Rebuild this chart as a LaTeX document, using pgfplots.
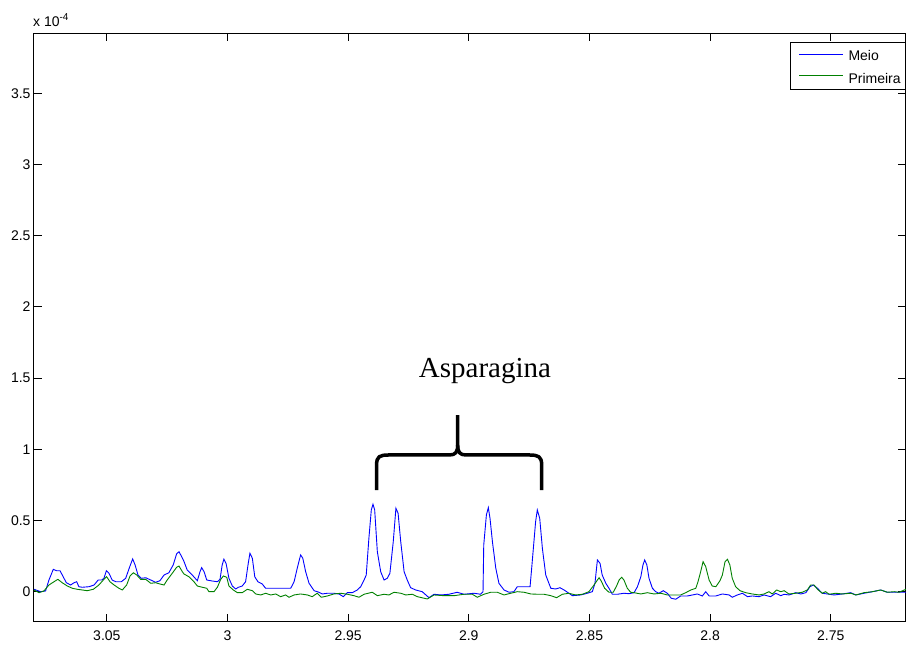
\documentclass[border=0pt]{standalone}
\usepackage{pgfplots}
\pgfplotsset{compat=1.18}
\usepackage{fontspec}
\setmainfont{Liberation Sans}
\newfontfamily\timesfont{Liberation Serif}
\definecolor{mblue}{RGB}{0,0,255}
\definecolor{mgreen}{RGB}{0,128,0}
\begin{document}
\fontsize{14}{16}\selectfont
\begin{tikzpicture}
\useasboundingbox (-34pt,-24.3pt) rectangle (872pt,621.7pt);
\begin{axis}[
  name=ax,
  at={(0pt,0pt)}, anchor=south west,
  scale only axis, width=872pt, height=588.4pt,
  x dir=reverse,
  xmin=2.7188, xmax=3.0802,
  ymin=-0.2107, ymax=3.921,
  xtick={2.75,2.8,2.85,2.9,2.95,3,3.05},
  xticklabels={2.75,2.8,2.85,2.9,2.95,3,3.05},
  ytick={0,0.5,1,1.5,2,2.5,3,3.5},
  yticklabels={0,0.5,1,1.5,2,2.5,3,3.5},
  /pgf/number format/assume math mode=true,
  tick align=inside,
  major tick length=8pt,
  tick style={black, line width=0.8pt},
  axis line style={black, line width=1pt},
  ticklabel style={font=\fontsize{14}{16}\selectfont},
  yticklabel style={xshift=1.4pt},
  xticklabel style={yshift=-4.5pt},
]
\addplot[mblue, line width=0.9pt] coordinates {
(3.0802,0.017) (3.0774,0) (3.0754,0.005) (3.0740,0.082) (3.0722,0.157) (3.0708,0.147)
(3.0694,0.147) (3.0681,0.105) (3.0668,0.063) (3.0650,0.047) (3.0636,0.063) (3.0625,0.070)
(3.0616,0.035) (3.0602,0.031) (3.0574,0.035) (3.0553,0.047) (3.0536,0.082) (3.0521,0.082)
(3.0512,0.094) (3.0502,0.147) (3.0491,0.129) (3.0478,0.082) (3.0463,0.070) (3.0440,0.070)
(3.0422,0.094) (3.0405,0.176) (3.0393,0.230) (3.0383,0.188) (3.0371,0.117) (3.0357,0.094)
(3.0339,0.098) (3.0318,0.082) (3.0298,0.066) (3.0280,0.077) (3.0263,0.117) (3.0243,0.133)
(3.0225,0.188) (3.0211,0.265) (3.0201,0.281) (3.0190,0.246) (3.0180,0.211) (3.0167,0.152)
(3.0146,0.117) (3.0125,0.077) (3.0114,0.140) (3.0107,0.169) (3.0097,0.140) (3.0086,0.082)
(3.0063,0.075) (3.0042,0.070) (3.0031,0.087) (3.0022,0.188) (3.0015,0.228) (3.0006,0.199)
(2.9994,0.094) (2.9980,0.040) (2.9966,0.019) (2.9955,0.031) (2.9939,0.040) (2.9925,0.070)
(2.9914,0.199) (2.9907,0.270) (2.9897,0.235) (2.9887,0.105) (2.9874,0.070) (2.9856,0.054)
(2.9842,0.024) (2.9738,0.024) (2.9724,0.070) (2.9711,0.164) (2.9697,0.258) (2.9688,0.235)
(2.9676,0.140) (2.9662,0.059) (2.9641,0.007) (2.9621,-0.004) (2.9607,-0.016) (2.9586,-0.011)
(2.9559,-0.011) (2.9538,-0.016) (2.9520,-0.035) (2.9503,-0.007) (2.9483,-0.007) (2.9462,0.012)
(2.9448,0.035) (2.9434,0.082) (2.9425,0.117) (2.9414,0.375) (2.9404,0.574) (2.9397,0.614)
(2.9390,0.574) (2.9379,0.281) (2.9365,0.140) (2.9351,0.082) (2.9338,0.094) (2.9327,0.129)
(2.9313,0.351) (2.9302,0.586) (2.9293,0.551) (2.9282,0.351) (2.9268,0.140) (2.9255,0.082)
(2.9241,0.028) (2.9220,0.012) (2.9193,0) (2.9165,-0.042) (2.9144,-0.018) (2.9116,-0.023)
(2.9082,-0.018) (2.9048,-0.004) (2.9020,-0.018) (2.8978,-0.011) (2.8951,-0.018) (2.8941,0)
(2.8938,0.328) (2.8927,0.539) (2.8919,0.590) (2.8912,0.515) (2.8902,0.351) (2.8888,0.164)
(2.8875,0.059) (2.8854,0.012) (2.8833,-0.004) (2.8813,0) (2.8799,0.035) (2.8746,0.035)
(2.8737,0.211) (2.8723,0.492) (2.8716,0.574) (2.8706,0.515) (2.8695,0.305) (2.8681,0.117)
(2.8660,0.024) (2.8640,0.019) (2.8622,0.028) (2.8605,0.012) (2.8585,-0.011) (2.8571,-0.028)
(2.8536,-0.023) (2.8509,-0.011) (2.8488,0) (2.8477,0.059) (2.8467,0.223) (2.8456,0.199)
(2.8447,0.117) (2.8432,0.059) (2.8419,0.024) (2.8405,-0.018) (2.8384,-0.018) (2.8357,-0.011)
(2.8336,-0.014) (2.8315,-0.007) (2.8301,0.035) (2.8287,0.105) (2.8278,0.188) (2.8271,0.223)
(2.8262,0.188) (2.8253,0.094) (2.8239,0.024) (2.8225,0) (2.8212,-0.011) (2.8194,0.007)
(2.8177,-0.011) (2.8161,-0.046) (2.8142,-0.053) (2.8122,-0.030) (2.8094,-0.030) (2.8073,-0.023)
(2.8053,-0.016) (2.8032,-0.030) (2.8018,0) (2.8004,-0.030) (2.7976,-0.030) (2.7949,-0.016)
(2.7921,-0.023) (2.7908,-0.039) (2.7887,-0.023) (2.7866,-0.011) (2.7845,-0.035) (2.7825,-0.030)
(2.7797,-0.035) (2.7776,-0.023) (2.7749,-0.035) (2.7728,-0.011) (2.7707,-0.028) (2.7693,-0.018)
(2.7673,-0.023) (2.7645,-0.007) (2.7624,-0.016) (2.7603,-0.007) (2.7586,0.035) (2.7572,0.047)
(2.7555,0.024) (2.7535,-0.011) (2.7514,-0.016) (2.7486,-0.023) (2.7452,-0.016) (2.7417,-0.007)
(2.7396,-0.023) (2.7362,-0.011) (2.7327,0) (2.7293,0.012) (2.7265,-0.004) (2.7224,-0.004)
(2.7188,-0.004)
};
\addplot[mgreen, line width=0.9pt] coordinates {
(3.0802,0.012) (3.0781,-0.007) (3.0761,0.005) (3.0740,0.047) (3.0719,0.070) (3.0703,0.087)
(3.0685,0.063) (3.0664,0.040) (3.0643,0.024) (3.0623,0.017) (3.0602,0.012) (3.0581,0.007)
(3.0556,0.017) (3.0533,0.047) (3.0512,0.087) (3.0501,0.105) (3.0487,0.070) (3.0470,0.047)
(3.0450,0.024) (3.0436,0.012) (3.0418,0.047) (3.0404,0.110) (3.0390,0.133) (3.0376,0.117)
(3.0360,0.087) (3.0339,0.087) (3.0318,0.059) (3.0298,0.063) (3.0280,0.054) (3.0263,0.047)
(3.0250,0.082) (3.0229,0.129) (3.0211,0.171) (3.0201,0.180) (3.0187,0.140) (3.0180,0.124)
(3.0160,0.105) (3.0139,0.070) (3.0125,0.040) (3.0104,0.031) (3.0086,0.024) (3.0077,0)
(3.0056,0) (3.0042,0.031) (3.0028,0.087) (3.0017,0.110) (3.0003,0.101) (2.9994,0.040)
(2.9976,0.012) (2.9959,-0.007) (2.9939,-0.007) (2.9918,0.017) (2.9897,0.007) (2.9883,-0.016)
(2.9862,-0.023) (2.9842,-0.011) (2.9821,-0.023) (2.9800,-0.016) (2.9780,-0.035) (2.9759,-0.023)
(2.9745,-0.039) (2.9724,-0.023) (2.9697,-0.016) (2.9669,-0.023) (2.9649,-0.035) (2.9628,-0.011)
(2.9611,-0.039) (2.9586,-0.030) (2.9559,-0.016) (2.9531,-0.011) (2.9503,-0.018) (2.9476,-0.028)
(2.9455,-0.039) (2.9434,-0.018) (2.9400,-0.004) (2.9379,-0.028) (2.9351,-0.018) (2.9331,-0.023)
(2.9310,-0.004) (2.9282,-0.011) (2.9261,-0.023) (2.9234,-0.018) (2.9213,-0.035) (2.9172,-0.051)
(2.9144,-0.023) (2.9103,-0.028) (2.9061,-0.028) (2.9020,-0.018) (2.8985,-0.018) (2.8965,-0.039)
(2.8937,-0.018) (2.8909,-0.004) (2.8882,-0.004) (2.8854,-0.023) (2.8826,-0.011) (2.8799,0)
(2.8771,-0.004) (2.8743,-0.016) (2.8716,-0.018) (2.8688,-0.018) (2.8660,-0.028) (2.8636,-0.042)
(2.8612,-0.018) (2.8585,-0.011) (2.8557,-0.023) (2.8529,-0.018) (2.8502,0) (2.8481,0.047)
(2.8467,0.082) (2.8460,0.098) (2.8451,0.075) (2.8437,0.024) (2.8419,-0.004) (2.8401,-0.004)
(2.8387,0.042) (2.8377,0.082) (2.8366,0.101) (2.8357,0.082) (2.8343,0.024) (2.8329,-0.004)
(2.8315,-0.007) (2.8287,-0.016) (2.8260,-0.007) (2.8232,-0.016) (2.8204,-0.011) (2.8177,-0.023)
(2.8149,-0.023) (2.8122,-0.023) (2.8101,-0.007) (2.8080,0.012) (2.8059,0.024) (2.8050,0.070)
(2.8039,0.140) (2.8029,0.211) (2.8018,0.176) (2.8004,0.082) (2.7991,0.040) (2.7976,0.035)
(2.7959,0.077) (2.7949,0.117) (2.7938,0.211) (2.7928,0.228) (2.7918,0.188) (2.7908,0.094)
(2.7894,0.035) (2.7876,0.007) (2.7852,-0.007) (2.7825,-0.016) (2.7797,-0.023) (2.7776,-0.016)
(2.7756,0) (2.7742,-0.016) (2.7724,0.012) (2.7707,0) (2.7693,0.007) (2.7673,-0.016)
(2.7645,-0.011) (2.7618,-0.004) (2.7597,0.012) (2.7583,0.047) (2.7569,0.047) (2.7555,0.017)
(2.7535,-0.011) (2.7521,0) (2.7507,-0.018) (2.7479,-0.011) (2.7452,-0.016) (2.7417,-0.011)
(2.7396,-0.023) (2.7362,-0.007) (2.7327,0) (2.7293,0.012) (2.7265,-0.004) (2.7237,0)
(2.7217,-0.004) (2.7188,0.017)
};
\draw[black, line width=3.5pt, line cap=butt, line join=round]
  (axis cs:2.9382,0.714) -- (axis cs:2.9382,0.890)
  .. controls (axis cs:2.9382,0.950) and (axis cs:2.9370,0.960) .. (axis cs:2.9330,0.960)
  -- (axis cs:2.9080,0.960)
  .. controls (axis cs:2.9055,0.960) and (axis cs:2.9046,0.980) .. (axis cs:2.9046,1.030)
  -- (axis cs:2.9046,1.240);
\draw[black, line width=3.5pt, line cap=butt, line join=round]
  (axis cs:2.9046,1.030)
  .. controls (axis cs:2.9046,0.980) and (axis cs:2.9037,0.960) .. (axis cs:2.9012,0.960)
  -- (axis cs:2.8751,0.960)
  .. controls (axis cs:2.8711,0.960) and (axis cs:2.8698,0.950) .. (axis cs:2.8698,0.890)
  -- (axis cs:2.8698,0.714);
\node[anchor=base, inner sep=0pt, font=\timesfont\fontsize{29}{32}\selectfont] at (axis cs:2.8933,1.503) {Asparagina};
\end{axis}
% legend
\draw[black, line width=0.6pt, fill=white] (756.7pt,532.7pt) rectangle (871pt,579pt);
\draw[mblue, line width=1pt] (765.3pt,567.4pt) -- (809.3pt,567.4pt);
\draw[mgreen, line width=1pt] (765.3pt,546pt) -- (809.3pt,546pt);
\node[anchor=base west, inner sep=0pt, font=\fontsize{14}{16}\selectfont] at (814.3pt,561pt) {Meio};
\node[anchor=base west, inner sep=0pt, font=\fontsize{14}{16}\selectfont] at (814.3pt,538.4pt) {Primeira};
\node[anchor=base west, inner sep=0pt, font=\fontsize{14}{16}\selectfont] at ([xshift=-1pt,yshift=6.8pt]ax.north west) {x 10\raisebox{6pt}{\fontsize{10}{12}\selectfont -4}};
\end{tikzpicture}
\end{document}
